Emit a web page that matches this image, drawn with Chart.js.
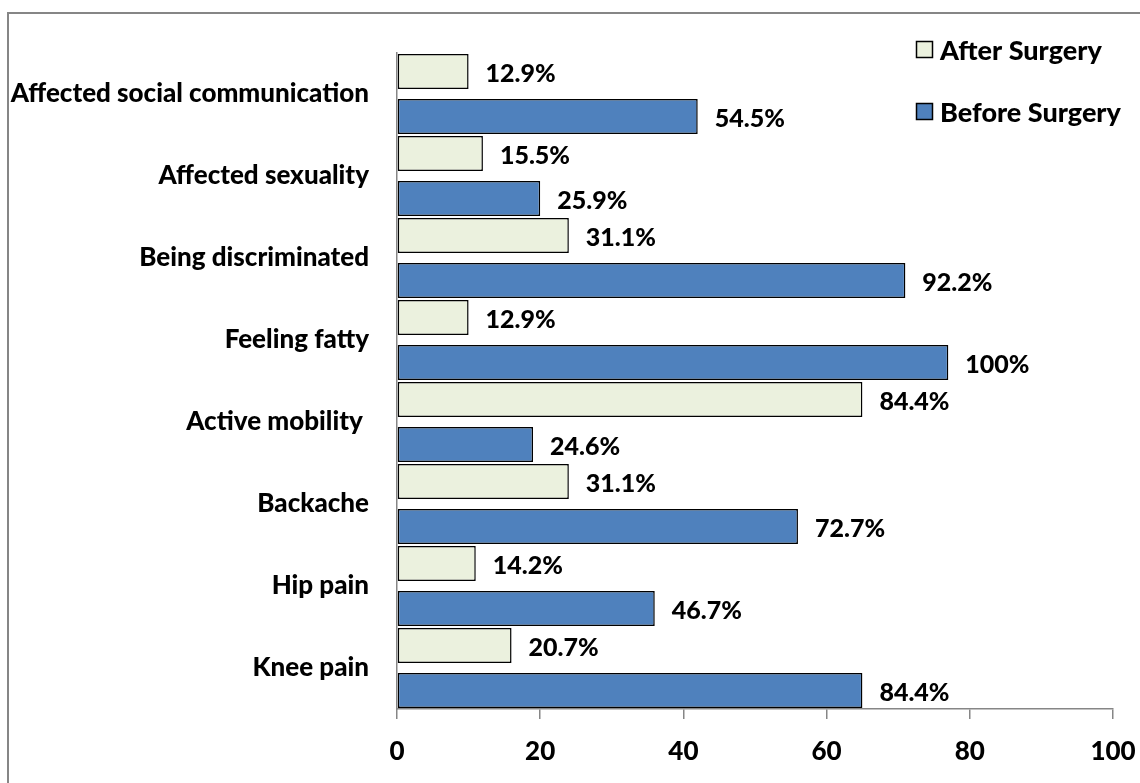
<!DOCTYPE html>
<html>
<head>
<meta charset="utf-8">
<script src="https://cdn.jsdelivr.net/npm/chart.js@4.4.1/dist/chart.umd.min.js"></script>
<style>
    html, body { margin: 0; padding: 0; background: #fff; }
    #wrap { position: relative; width: 1140px; height: 783px; }
</style>
</head>
<body>
<div id="wrap"><canvas id="surgeryChart" width="1140" height="783"></canvas></div>
<script>
// --- Data ---
const categories = [
    'Affected social communication',
    'Affected sexuality',
    'Being discriminated',
    'Feeling fatty',
    'Active mobility ',
    'Backache',
    'Hip pain',
    'Knee pain'
];
const seriesNames = ['After Surgery', 'Before Surgery'];
const afterCounts = [10, 12, 24, 10, 65, 24, 11, 16];
const beforeCounts = [42, 20, 71, 77, 19, 56, 36, 65];
const afterLabels = ['12.9%', '15.5%', '31.1%', '12.9%', '84.4%', '31.1%', '14.2%', '20.7%'];
const beforeLabels = ['54.5%', '25.9%', '92.2%', '100%', '24.6%', '72.7%', '46.7%', '84.4%'];
const xMin = 0;
const xMax = 100;
const xStep = 20;

const FONT = "Lato, 'Open Sans', sans-serif";
const WEIGHT = '900';
const AXIS_GREY = '#868686';
const seriesColors = ['#EBF1DE', '#4F81BD'];

// --- Plugins ---
const frame = {
    id: 'frame',
    beforeDraw(chart) {
        const c = chart.ctx;
        c.save();
        c.strokeStyle = AXIS_GREY;
        c.lineWidth = 2;
        c.beginPath();
        c.moveTo(8, chart.height);
        c.lineTo(8, 13);
        c.lineTo(chart.width, 13);
        c.stroke();
        c.restore();
    }
};

const valueLabels = {
    id: 'valueLabels',
    afterDatasetsDraw(chart) {
        const c = chart.ctx;
        const texts = [afterLabels, beforeLabels];
        c.save();
        c.font = WEIGHT + ' 25px ' + FONT;
        c.fillStyle = '#000';
        c.textAlign = 'left';
        c.textBaseline = 'middle';
        chart.data.datasets.forEach((ds, i) => {
            chart.getDatasetMeta(i).data.forEach((bar, j) => {
                c.fillText(texts[i][j], bar.x + 17, bar.y + 2);
            });
        });
        c.restore();
    }
};

const sideLegend = {
    id: 'sideLegend',
    afterDraw(chart) {
        const c = chart.ctx;
        const rows = [50, 112];
        c.save();
        c.font = WEIGHT + ' 27px ' + FONT;
        c.textBaseline = 'middle';
        seriesNames.forEach((name, i) => {
            c.fillStyle = seriesColors[i];
            c.fillRect(916.5, rows[i] - 8.5, 16, 16);
            c.strokeStyle = '#000';
            c.lineWidth = 1.5;
            c.strokeRect(916.5, rows[i] - 8.5, 16, 16);
            c.fillStyle = '#000';
            c.fillText(name, 940, rows[i] + 1);
        });
        c.restore();
    }
};

// --- Chart ---
const ctx = document.getElementById('surgeryChart');

new Chart(ctx, {
    type: 'bar',
    data: {
        labels: categories,
        datasets: [
            {
                label: seriesNames[0],
                data: afterCounts,
                backgroundColor: seriesColors[0],
                borderColor: '#000',
                borderWidth: 1.5,
                borderSkipped: false
            },
            {
                label: seriesNames[1],
                data: beforeCounts,
                backgroundColor: seriesColors[1],
                borderColor: '#000',
                borderWidth: 1.5,
                borderSkipped: false
            }
        ]
    },
    options: {
        indexAxis: 'y',
        responsive: false,
        animation: false,
        categoryPercentage: 1.1,
        barPercentage: 0.776,
        layout: {
            padding: { top: 53, right: 27, bottom: 0, left: 0 }
        },
        scales: {
            x: {
                min: xMin,
                max: xMax,
                afterFit(scale) {
                    scale.height = 74;
                    scale.paddingLeft = 0;
                    scale.paddingRight = 0;
                },
                border: { display: true, color: AXIS_GREY, width: 1.5 },
                grid: {
                    drawOnChartArea: false,
                    drawTicks: true,
                    tickLength: 10,
                    color: AXIS_GREY,
                    lineWidth: 1.5
                },
                ticks: {
                    stepSize: xStep,
                    color: '#000',
                    padding: 17,
                    font: { family: FONT, size: 26, weight: WEIGHT }
                }
            },
            y: {
                afterFit(scale) { scale.width = 397; },
                border: { display: true, color: AXIS_GREY, width: 1.5 },
                grid: { display: false, drawTicks: false },
                ticks: {
                    color: '#000',
                    padding: 28,
                    font: { family: FONT, size: 26, weight: WEIGHT }
                }
            }
        },
        plugins: {
            legend: { display: false },
            tooltip: { enabled: false }
        }
    },
    plugins: [frame, valueLabels, sideLegend]
});
</script>
</body>
</html>
